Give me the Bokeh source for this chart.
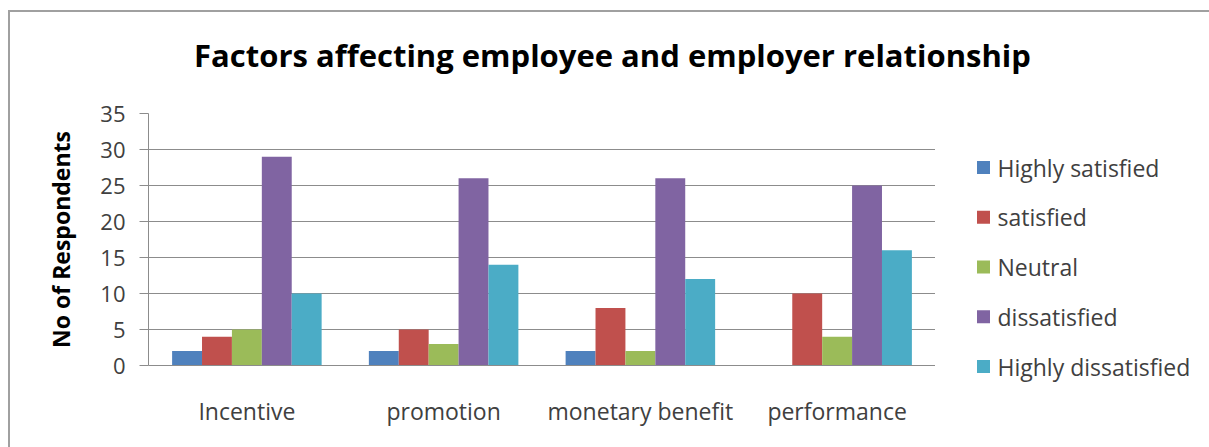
from bokeh.plotting import figure
from bokeh.layouts import column, row
from bokeh.models import ColumnDataSource, FactorRange, Range1d, FixedTicker
from bokeh.core.properties import value
from bokeh.transform import dodge
from bokeh.embed import file_html
from bokeh.resources import INLINE

title_text = "Factors affecting employee and employer relationship"
y_axis_title = "No of Respondents"
categories = ["Incentive", "promotion", "monetary benefit", "performance"]
series = ["Highly satisfied", "satisfied", "Neutral", "dissatisfied", "Highly dissatisfied"]
highly_satisfied = [2, 2, 2, 0]
satisfied = [4, 5, 8, 10]
neutral = [5, 3, 2, 4]
dissatisfied = [29, 26, 26, 25]
highly_dissatisfied = [10, 14, 12, 16]
y_ticks = [0, 5, 10, 15, 20, 25, 30, 35]
colors = ["#4F81BD", "#C0504D", "#9BBB59", "#8064A2", "#4BACC6"]

FONT = "Open Sans"
TEXT_GREY = "#404040"
GRID_GREY = "#8c8c8c"

# ---------- title strip ----------
TH = 80
tfig = figure(width=1199, height=TH, x_range=Range1d(0, 1199), y_range=Range1d(TH, 0),
              x_axis_type=None, y_axis_type=None, output_backend="svg", toolbar_location=None,
              min_border=0, outline_line_color=None, frame_align=False)
tfig.title.visible = False
tfig.text(x=[602], y=[42.5], text=[title_text], text_font=value(FONT), text_font_size="31px",
          text_font_style="bold", text_color="#000000", text_align="center",
          text_baseline="middle")

# ---------- main chart ----------
keys = ["hs", "s", "n", "d", "hd"]
source = ColumnDataSource(dict(cat=categories, hs=highly_satisfied, s=satisfied,
                               n=neutral, d=dissatisfied, hd=highly_dissatisfied))

BH = 435 - TH
p = figure(x_range=FactorRange(*categories), y_range=Range1d(0, 35),
           width=925, height=BH, output_backend="svg", toolbar_location=None,
           min_border_left=138, min_border_right=0, min_border_top=21, min_border_bottom=82,
           frame_align=False)

bw = 0.152
for i, k in enumerate(keys):
    p.vbar(x=dodge("cat", (i - 2) * bw, range=p.x_range), top=k, width=bw,
           source=source, fill_color=colors[i], line_color=None)

p.outline_line_color = None
p.xgrid.grid_line_color = None
p.ygrid.grid_line_color = GRID_GREY
p.ygrid.grid_line_width = 1

p.yaxis.ticker = FixedTicker(ticks=y_ticks)
p.yaxis.axis_line_color = GRID_GREY
p.yaxis.major_tick_line_color = GRID_GREY
p.yaxis.major_tick_out = 9
p.yaxis.major_tick_in = 0
p.yaxis.minor_tick_line_color = None
p.yaxis.major_label_text_font = FONT
p.yaxis.major_label_text_font_size = "22px"
p.yaxis.major_label_text_color = TEXT_GREY
p.yaxis.major_label_standoff = 14
p.yaxis.axis_label = y_axis_title
p.yaxis.axis_label_text_font = FONT
p.yaxis.axis_label_text_font_size = "23px"
p.yaxis.axis_label_text_font_style = "bold"
p.yaxis.axis_label_text_color = "#000000"
p.yaxis.axis_label_standoff = 20

p.xaxis.axis_line_color = GRID_GREY
p.xaxis.major_tick_line_color = None
p.xaxis.minor_tick_line_color = None
p.xaxis.major_label_text_font = FONT
p.xaxis.major_label_text_font_size = "23px"
p.xaxis.major_label_text_color = TEXT_GREY
p.xaxis.major_label_standoff = 23

# ---------- legend panel ----------
lfig = figure(width=274, height=BH, x_range=Range1d(0, 274), y_range=Range1d(BH, 0),
              x_axis_type=None, y_axis_type=None, output_backend="svg", toolbar_location=None,
              min_border=0, outline_line_color=None, frame_align=False)
lfig.title.visible = False
n = len(series)
leg_y = [75 + 49.75 * i for i in range(n)]
lfig.rect(x=[48] * n, y=leg_y, width=13, height=13, width_units="screen",
          height_units="screen", fill_color=colors, line_color=None)
lfig.text(x=[62] * n, y=leg_y, text=series, text_font=value(FONT), text_font_size="23px",
          text_color=TEXT_GREY, text_align="left", text_baseline="middle")

layout = column(tfig, row(p, lfig, spacing=0), spacing=0,
                margin=(10, 0, 0, 8),
                styles={"border-left": "2px solid #a0a0a0", "border-top": "2px solid #a0a0a0",
                        "background-color": "white"})

open("out.html", "w").write(file_html(layout, INLINE))
